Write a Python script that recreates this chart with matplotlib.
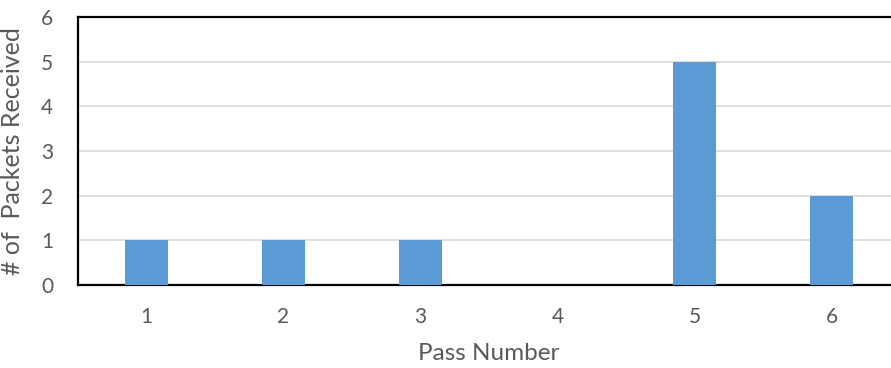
import matplotlib
matplotlib.use('Agg')
from matplotlib import pyplot as plt
import numpy as np

# pass number vs packets received
passes = ['1', '2', '3', '4', '5', '6']
packets = [1, 1, 1, 0, 5, 2]
yticks = [0, 1, 2, 3, 4, 5, 6]

plt.rcParams['font.family'] = ['Lato', 'DejaVu Sans']

W, H = 891, 368
fig = plt.figure(figsize=(W / 100, H / 100), dpi=100)
# axes runs past the right edge of the picture, like the cropped original
left, right, top, bottom = 78, 900, 17, 285
ax = fig.add_axes([left / W, 1 - bottom / H, (right - left) / W, (bottom - top) / H])

x = np.arange(len(passes))
ax.bar(x, packets, width=0.31, color='#5B9BD5', zorder=3)

ax.set_xlim(-0.5, len(passes) - 0.5)
ax.set_ylim(0, 6)
ax.set_xticks(x)
ax.set_xticklabels(passes)
ax.set_yticks(yticks)
ax.grid(axis='y', color='#D9D9D9', linewidth=1.2, zorder=0)

for s in ['top', 'left', 'bottom', 'right']:
    ax.spines[s].set_color('black')
    ax.spines[s].set_linewidth(1.6)

ax.tick_params(axis='both', length=0, labelsize=15, labelcolor='#595959')
ax.tick_params(axis='y', pad=18)
ax.tick_params(axis='x', pad=16)

ax.set_xlabel('Pass Number', fontsize=17.5, color='#595959', labelpad=11)
ax.set_ylabel('# of  Packets Received', fontsize=18, color='#595959', labelpad=12)

fig.savefig('out.png', dpi=100)
